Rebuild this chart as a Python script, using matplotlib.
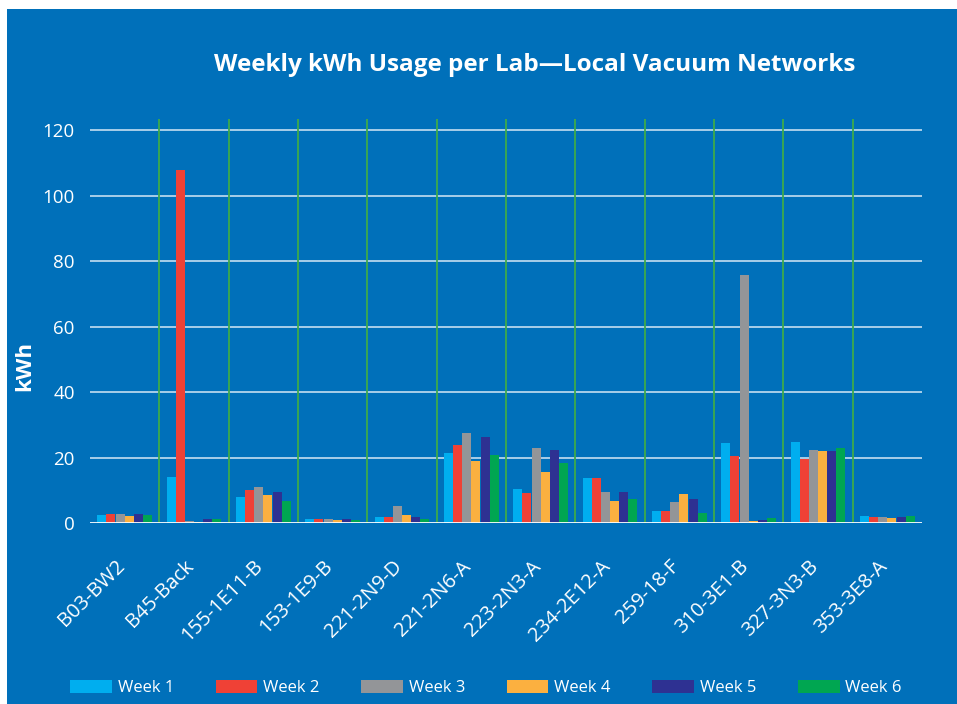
import matplotlib
matplotlib.use("Agg")
import matplotlib.pyplot as plt
import matplotlib.transforms as mtrans
import numpy as np
from matplotlib.patches import Rectangle

labs = ["B03-BW2", "B45-Back", "155-1E11-B", "153-1E9-B", "221-2N9-D", "221-2N6-A",
        "223-2N3-A", "234-2E12-A", "259-18-F", "310-3E1-B", "327-3N3-B", "353-3E8-A"]
week1 = [2.3, 14.2, 7.8, 1.1, 1.7, 21.5, 10.3, 13.6, 3.6, 24.3, 24.6, 2.0]
week2 = [2.6, 107.8, 10.1, 1.1, 1.7, 23.7, 9.3, 13.6, 3.6, 20.6, 19.4, 1.7]
week3 = [2.9, 0.5, 10.9, 1.1, 5.1, 27.6, 23.0, 9.6, 6.3, 75.6, 22.4, 1.7]
week4 = [2.0, 0.2, 8.4, 0.8, 2.3, 18.8, 15.7, 6.6, 9.0, 0.5, 22.1, 1.4]
week5 = [2.9, 1.1, 9.6, 1.1, 1.7, 26.4, 22.4, 9.6, 7.2, 0.8, 22.1, 1.7]
week6 = [2.3, 1.1, 6.6, 0.8, 1.1, 20.9, 18.2, 7.2, 3.2, 1.4, 23.0, 2.0]
series = [week1, week2, week3, week4, week5, week6]
names = ["Week 1", "Week 2", "Week 3", "Week 4", "Week 5", "Week 6"]
colors = ["#00AEEF", "#EF4136", "#939598", "#FBB040", "#2E3192", "#00A651"]
yticks = [0, 20, 40, 60, 80, 100, 120]

plt.rcParams['font.family'] = ['Open Sans', 'DejaVu Sans']
BG = "#0070BA"

fig = plt.figure(figsize=(9.57, 7.04), dpi=100, facecolor="white")
fig.patches.append(Rectangle((7/957, 0), 1, 1 - 9/704, transform=fig.transFigure,
                             facecolor=BG, edgecolor="none", zorder=-10))

ax = fig.add_axes([90/957, 1 - 523/704, (922-90)/957, (523-119)/704])
ax.set_facecolor(BG)
x = np.arange(len(labs))
bw = 0.132
for i, (s, c, n) in enumerate(zip(series, colors, names)):
    ax.bar(x + (i - 2.5) * bw, s, width=bw * 0.97, color=c, label=n, zorder=3)

ax.set_xlim(-0.5, len(labs) - 0.5)
ax.set_ylim(0, 123.4)
ax.set_yticks(yticks)
for yv in yticks[1:]:
    ax.axhline(yv, color="#D6E8F5", lw=1.1, zorder=1)
ax.axhline(0, color="white", lw=2, zorder=4)
for b in np.arange(0.5, len(labs) - 1, 1.0):
    ax.axvline(b, color="#3DAA4B", lw=1.3, zorder=2)

for sp in ax.spines.values():
    sp.set_visible(False)
ax.tick_params(axis="y", length=0, pad=11, labelcolor="white", labelsize=13.5)
ax.tick_params(axis="x", length=0, pad=24, labelcolor="white", labelsize=14.5)
ax.set_xticks(x)
ax.set_xticklabels(labs, rotation=45, ha="right", va="top", rotation_mode="anchor")
off = mtrans.ScaledTranslation(-10/100, 0, fig.dpi_scale_trans)
for t in ax.get_xticklabels():
    t.set_transform(t.get_transform() + off)

fig.text(25/957, 1 - 366/704, "kWh", color="white", fontsize=16, fontweight="bold",
         rotation=90, ha="center", va="center")

fig.text(535/957, 1 - 65/704, "Weekly kWh Usage per Lab\u2014Local Vacuum Networks",
         color="white", fontsize=17.5, fontweight="bold", ha="center", va="center")

leg = fig.legend(loc="center", bbox_to_anchor=(486/957, 1 - 688/704), ncol=6,
                 frameon=False, fontsize=12, handlelength=2.5, handleheight=0.8,
                 handletextpad=0.35, columnspacing=2.5)
for t in leg.get_texts():
    t.set_color("white")

fig.savefig("out.png", dpi=100, facecolor=fig.get_facecolor())
